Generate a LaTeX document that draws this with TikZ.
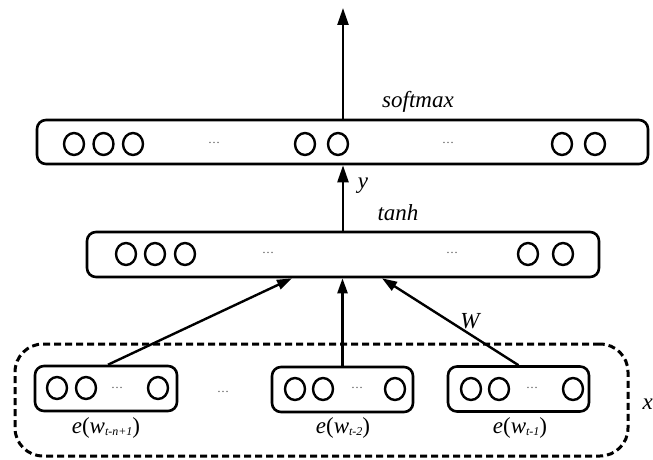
\documentclass[tikz,border=0pt]{standalone}
\usepackage{fontspec}
\setmainfont{Liberation Serif}
\usetikzlibrary{arrows.meta,shapes.geometric}
\newcommand{\wsub}[1]{\raisebox{-1.5pt}{\fontsize{12}{12}\selectfont\itshape #1}}
\begin{document}
\begin{tikzpicture}[x=1pt,y=-1pt,
  layerbox/.style={draw,line width=2.6pt,rounded corners=9pt,inner sep=0pt},
  unit/.style={draw,ellipse,line width=2.4pt,minimum width=20pt,minimum height=22pt,inner sep=0pt},
  dotsl/.style={anchor=base,inner sep=0pt,text=black!70,font=\fontsize{12}{12}\selectfont},
  lbl/.style={inner sep=0pt,font=\fontsize{23}{23}\selectfont\itshape},
  elbl/.style={inner sep=0pt,font=\fontsize{23}{23}\selectfont},
  arr/.style={line width=2.4pt,-{Triangle[length=15pt,width=10pt]}},
  bigarr/.style={line width=2.4pt,-{Triangle[length=17pt,width=11pt]}},
  group/.style={draw,line width=3pt,dash pattern=on 7pt off 4pt,rounded corners=28pt,inner sep=0pt}]
\useasboundingbox (0,0) rectangle (653,460);

% output layer
\node[layerbox,minimum width=611pt,minimum height=44pt] (top) at (342.5,142) {};
\node[unit] (o1) at (74,144) {};
\node[unit] (o2) at (103.5,144) {};
\node[unit] (o3) at (133,144) {};
\node[unit] (o4) at (305,144) {};
\node[unit] (o5) at (338,144) {};
\node[unit] (o6) at (562,144) {};
\node[unit] (o7) at (595,144) {};
\node[dotsl] (od1) at (214,143) {\ldots};
\node[dotsl] (od2) at (448,143) {\ldots};

% hidden layer
\node[layerbox,minimum width=512pt,minimum height=45pt] (hid) at (343,254.5) {};
\node[unit] (h1) at (126,254) {};
\node[unit] (h2) at (155,254) {};
\node[unit] (h3) at (185,254) {};
\node[unit] (h4) at (528,254) {};
\node[unit] (h5) at (563,254) {};
\node[dotsl] (hd1) at (268,253) {\ldots};
\node[dotsl] (hd2) at (452,253) {\ldots};

% word embeddings
\node[group,minimum width=613pt,minimum height=112pt] (grp) at (321.5,400) {};

\node[layerbox,minimum width=142pt,minimum height=45pt] (b1) at (106,388.5) {};
\node[unit] (a1) at (57,388) {};
\node[unit] (a2) at (86,388) {};
\node[unit] (a3) at (158,388) {};
\node[dotsl] (ad) at (117,388) {\ldots};

\node[layerbox,minimum width=141pt,minimum height=45pt] (b2) at (342.5,389.5) {};
\node[unit] (c1) at (295,389) {};
\node[unit] (c2) at (323,389) {};
\node[unit] (c3) at (395,389) {};
\node[dotsl] (cd) at (357,388) {\ldots};

\node[layerbox,minimum width=141pt,minimum height=45pt] (b3) at (518.5,389) {};
\node[unit] (d1) at (471,389) {};
\node[unit] (d2) at (499,389) {};
\node[unit] (d3) at (573,389) {};
\node[dotsl] (dd) at (532,388) {\ldots};

\node[dotsl] (mid) at (223,392) {\ldots};

\node[elbl] (e1) at (106,428) {\textit{e}(\textit{w}\wsub{t-n+1})};
\node[elbl] (e2) at (343,428) {\textit{e}(\textit{w}\wsub{t-2})};
\node[elbl] (e3) at (520,428) {\textit{e}(\textit{w}\wsub{t-1})};

% connections
\coordinate (out) at (343,8);
\draw[bigarr] (top.north -| out) -- (out);
\draw[bigarr] (hid.north) -- (top.south -| hid.north);
\draw[arr] ([xshift=2pt]b1.north) -- ([xshift=-51pt]hid.south);
\draw[arr] (b2.north) -- (hid.south -| b2.north);
\draw[arr] (b3.north) -- ([xshift=39pt]hid.south);

% labels
\node[lbl] (lsm) at (418,102) {softmax};
\node[lbl] (ly) at (363,186) {y};
\node[lbl] (lth) at (398,213) {tanh};
\node[lbl] (lw) at (470,321) {W};
\node[lbl,anchor=east] (lx) at (653,404) {x};
\end{tikzpicture}
\end{document}
